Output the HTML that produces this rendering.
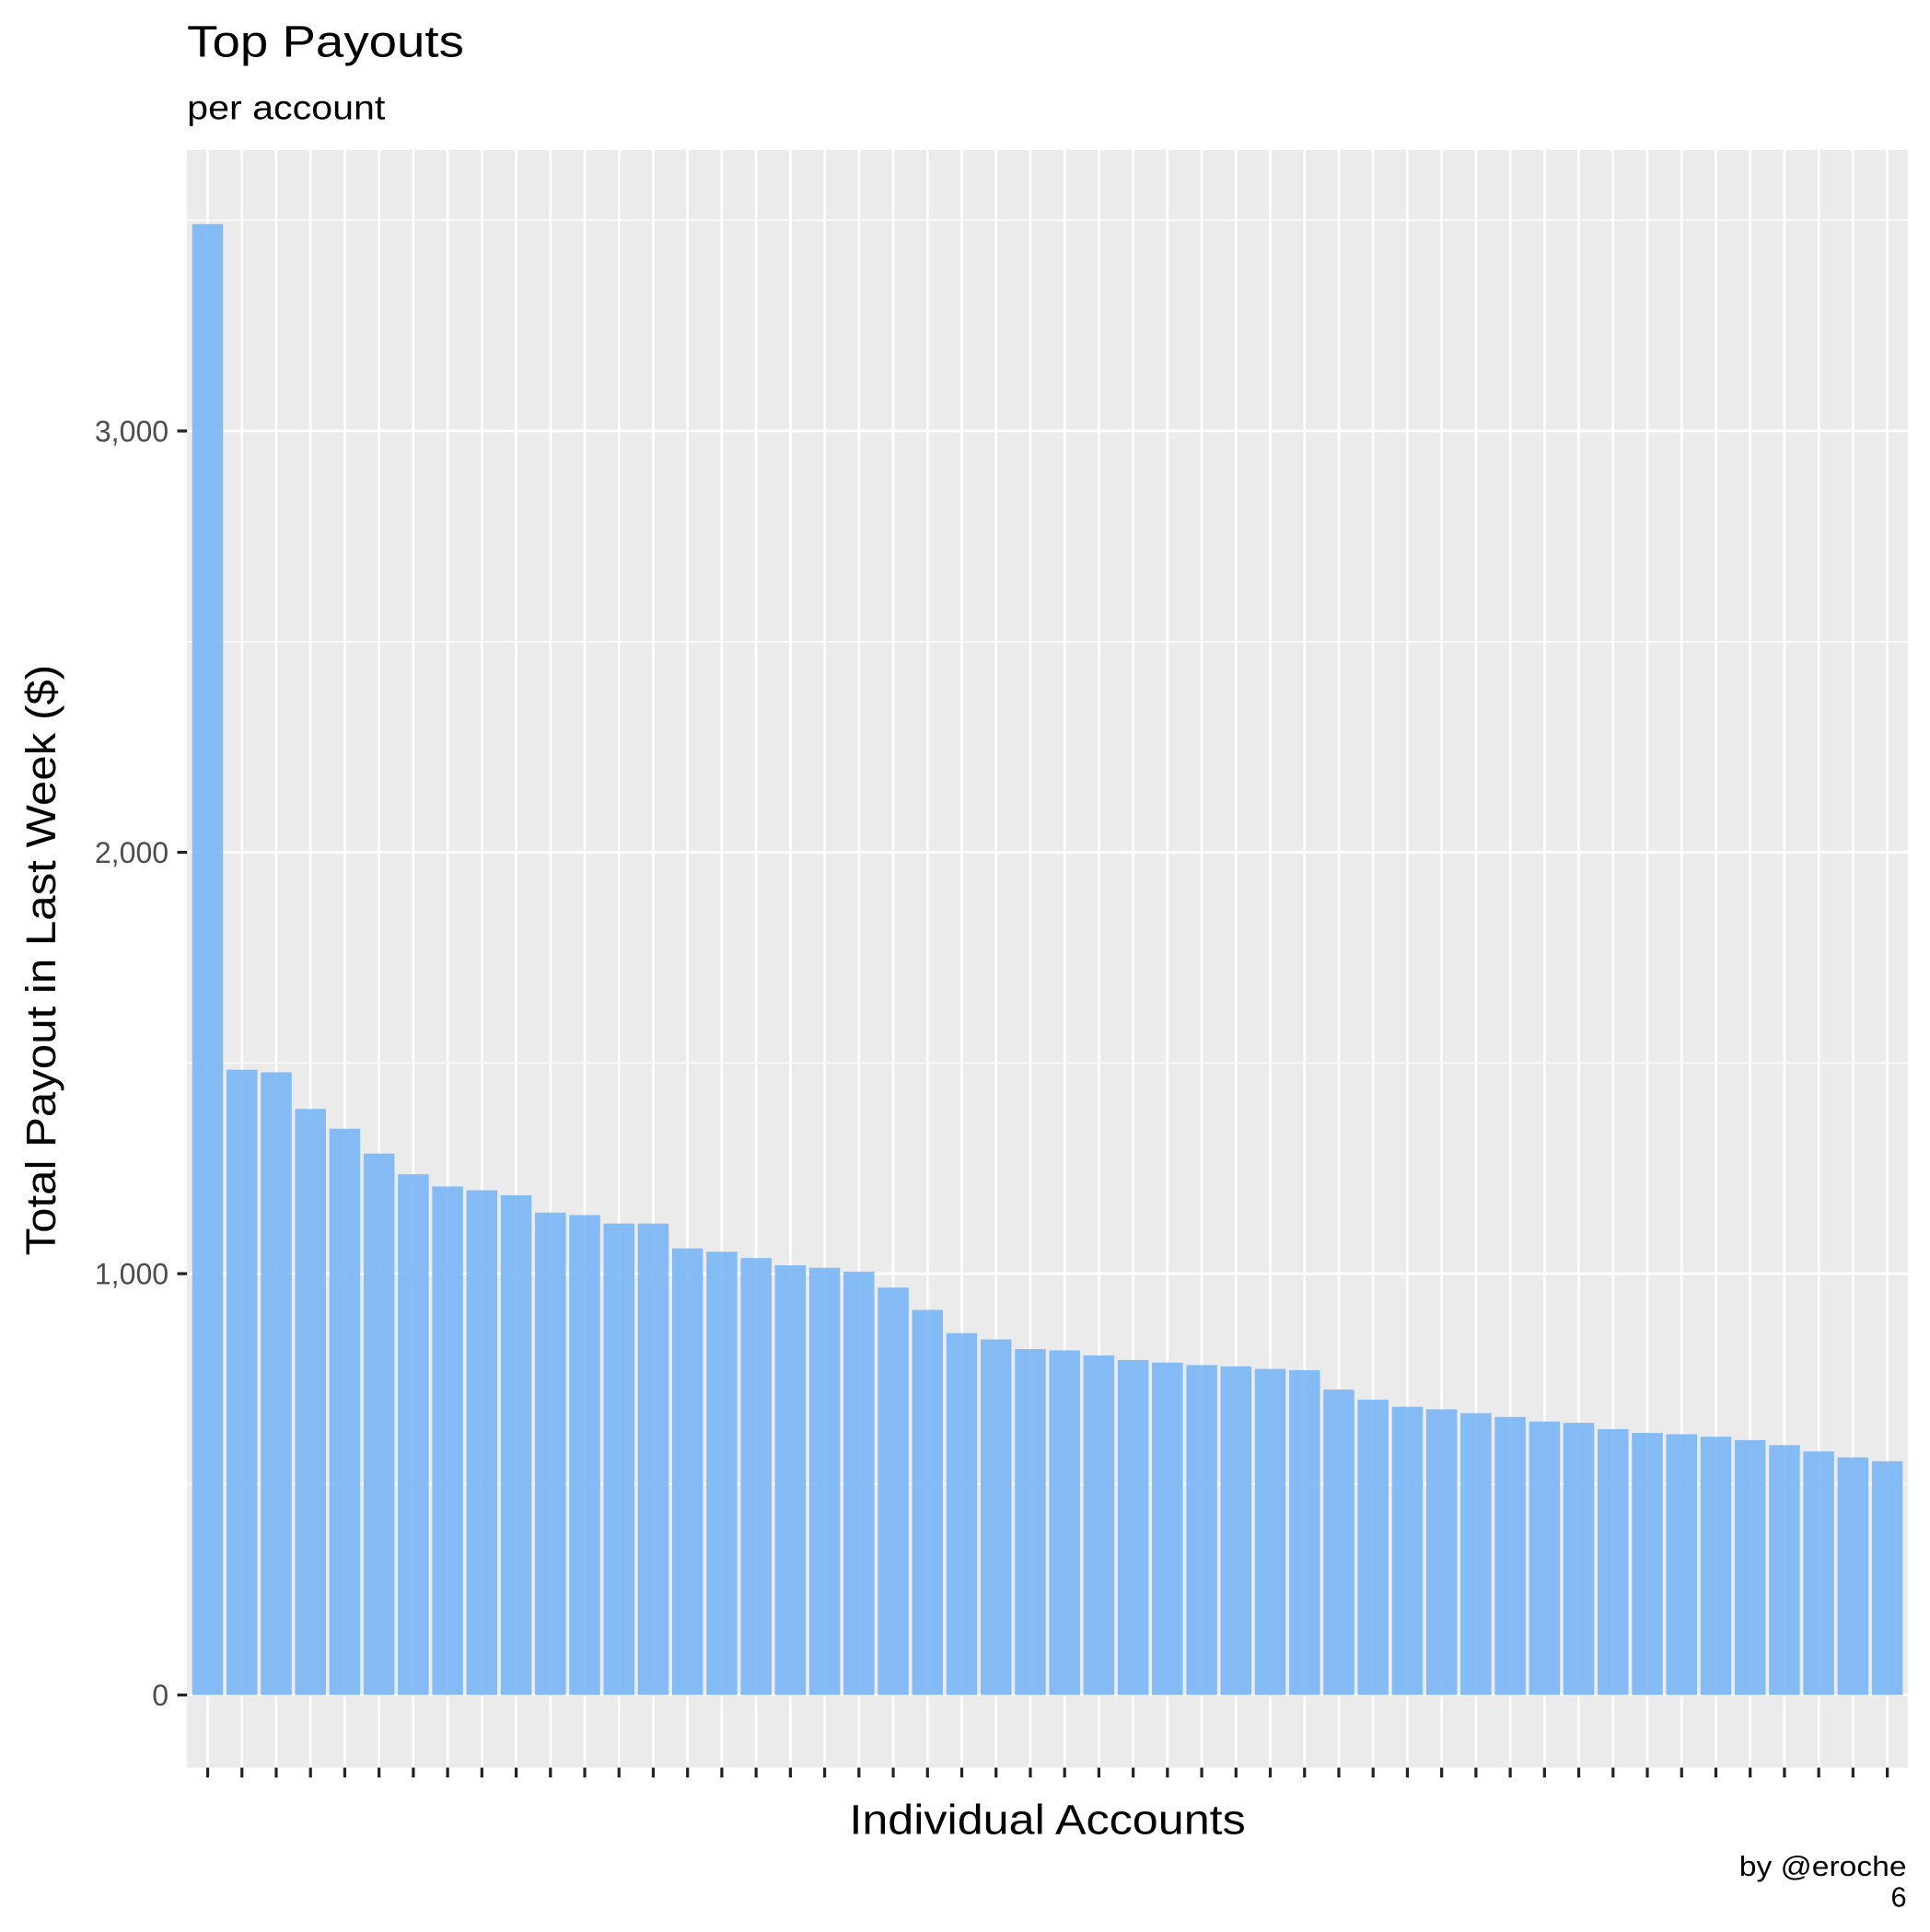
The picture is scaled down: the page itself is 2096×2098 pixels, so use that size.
<!DOCTYPE html>
<html><head><meta charset="utf-8"><style>
html,body{margin:0;padding:0;background:#fff;}
svg{display:block;font-family:"Liberation Sans",sans-serif;}
</style></head><body>
<svg id="chart" width="2096" height="2098" viewBox="0 0 1568 1569.5" xmlns="http://www.w3.org/2000/svg">
<rect x="0" y="0" width="1568" height="1570" fill="#fff"/>
<text x="152" y="46" font-size="36" textLength="225" lengthAdjust="spacingAndGlyphs" fill="#000">Top Payouts</text>
<text x="152" y="97" font-size="28" textLength="161" lengthAdjust="spacingAndGlyphs" fill="#000">per account</text>
<rect x="152" y="122" width="1398" height="1314" fill="#ebebeb"/>
<g id="grid"></g>
<g id="bars"></g>
<g id="yaxis"></g>
<g id="xaxis"></g>
<text x="851" y="1490" font-size="34" textLength="322" lengthAdjust="spacingAndGlyphs" text-anchor="middle" fill="#000">Individual Accounts</text>
<text transform="translate(45,780) rotate(-90)" font-size="34" textLength="480" lengthAdjust="spacingAndGlyphs" text-anchor="middle" fill="#000">Total Payout in Last Week ($)</text>
<text x="1549" y="1524" font-size="23" textLength="136" lengthAdjust="spacingAndGlyphs" text-anchor="end" fill="#000">by @eroche</text>
<text x="1549" y="1549" font-size="23" text-anchor="end" fill="#000">6</text>
</svg>
<script>
const payouts = [3491,1484,1478,1391,1344,1285,1236,1207,1198,1186,1145,1139,1119,1119,1060,1052,1037,1020,1014,1005,967,914,859,844,821,818,806,795,789,783,780,774,771,725,701,684,678,669,660,649,646,631,622,619,613,605,593,578,564,555];
const yTicks = [0,1000,2000,3000];
const yTickLabels = ["0","1,000","2,000","3,000"];
const yMinor = [500,1500,2500,3500];

const NS="http://www.w3.org/2000/svg";
const PL=152, PR=1550, PT=122, PB=1436;
const Y0=1377, PX_PER=0.3423;
function yScale(v){return Y0 - v*PX_PER;}
const n=payouts.length;
const band=(PR-PL)/(n-1+1.2);
function xScale(i){return PL + band*(0.6+i);}
function mk(tag,attrs,parent){const e=document.createElementNS(NS,tag);for(const k in attrs)e.setAttribute(k,attrs[k]);parent.appendChild(e);return e;}
const grid=document.getElementById('grid');
yMinor.forEach(v=>{const y=yScale(v);if(y<PT)return;
 const l=mk('line',{x1:PL,x2:PR,y1:y,y2:y,stroke:'#fff','stroke-width':1},grid);
 
 });
yTicks.forEach(v=>{const y=yScale(v);
 const l=mk('line',{x1:PL,x2:PR,y1:y,y2:y,stroke:'#fff','stroke-width':2},grid);
 
 });
payouts.forEach((v,i)=>{const x=xScale(i);
 const l=mk('line',{x1:x,x2:x,y1:PT,y2:PB,stroke:'#fff','stroke-width':2},grid);
 
 });
const bars=document.getElementById('bars');
payouts.forEach((v,i)=>{const cx=xScale(i),w=band*0.9;
 const r=mk('rect',{x:cx-w/2,y:yScale(v),width:w,height:yScale(0)-yScale(v),fill:'#76b4f5','fill-opacity':0.88},bars);
 
 });
const ya=document.getElementById('yaxis');
yTicks.forEach((v,i)=>{const y=yScale(v);
 const t=mk('line',{x1:PL-8,x2:PL,y1:y,y2:y,stroke:'#222','stroke-width':2.4},ya);
 
 
 const tx=mk('text',{x:PL-15,y:y+8.5,'font-size':24,'text-anchor':'end',fill:'#4d4d4d'},ya);
 tx.textContent=yTickLabels[i];
 
 });
const xa=document.getElementById('xaxis');
payouts.forEach((v,i)=>{const x=xScale(i);
 const t=mk('line',{x1:x,x2:x,y1:PB,y2:PB+8,stroke:'#222','stroke-width':2.4},xa);
 
 });
</script>
</body></html>
